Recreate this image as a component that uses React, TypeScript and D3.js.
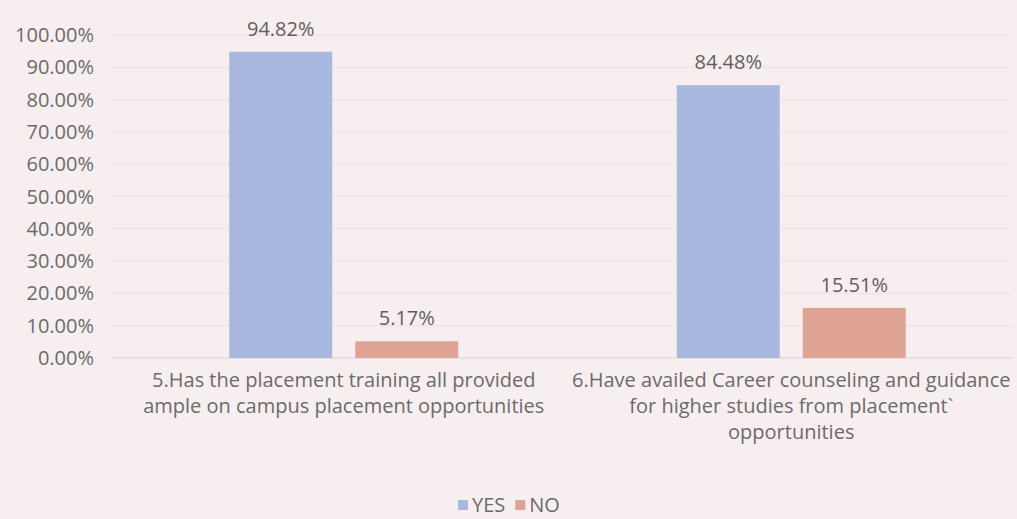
import * as d3 from "d3";
import { useEffect, useRef } from "react";

const width = 1017;
const height = 519;

// category labels, already broken into lines like the original
const categories = ["q5", "q6"];
const categoryLines = [
  ["5.Has the placement training all provided", "ample on campus placement opportunities"],
  ["6.Have availed Career counseling and guidance", "for higher studies from placement`", "opportunities"],
];
const seriesNames = ["YES", "NO"];
const yesValues = [94.82, 84.48];
const noValues = [5.17, 15.51];
const yTicks = [0, 10, 20, 30, 40, 50, 60, 70, 80, 90, 100];

const colors = ["#a9b8de", "#dfa395"];
const font = "'Open Sans', sans-serif";
const textColor = "#6b6b6b";
const fs = 20;

export default function App() {
  const ref = useRef<SVGSVGElement>(null);

  useEffect(() => {
    const svg = d3.select(ref.current);
    svg.selectAll("*").remove();

    const x = d3.scaleBand().domain(categories).range([120, 1015]);
    const xs = d3.scaleBand().domain(seriesNames).range([0, x.bandwidth()]).paddingInner(0.183).paddingOuter(0.867);
    const y = d3.scaleLinear().domain([0, 100]).range([358, 35]);

    svg.append("rect").attr("width", width).attr("height", height).attr("fill", "#f7eeef");

    // grid
    svg
      .append("g")
      .selectAll("line")
      .data(yTicks)
      .join("line")
      .attr("x1", 112)
      .attr("x2", 1012)
      .attr("y1", (d) => y(d))
      .attr("y2", (d) => y(d))
      .attr("stroke", (d) => (d === 0 ? "#dccfd2" : "#ebe0e2"))
      .attr("stroke-width", 1);

    // y tick labels
    svg
      .append("g")
      .selectAll("text")
      .data(yTicks)
      .join("text")
      .attr("x", 94)
      .attr("y", (d) => y(d))
      .attr("dy", "0.35em")
      .attr("text-anchor", "end")
      .attr("font-family", font)
      .attr("font-size", fs)
      .attr("fill", textColor)
      .text((d) => d3.format(".2f")(d) + "%");

    const series = [yesValues, noValues];
    const groups = svg
      .append("g")
      .selectAll("g")
      .data(categories)
      .join("g")
      .attr("transform", (d) => `translate(${x(d)},0)`);

    groups
      .selectAll("rect")
      .data((d, i) => seriesNames.map((s, j) => ({ s, v: series[j][i], j })))
      .join("rect")
      .attr("x", (d) => xs(d.s)!)
      .attr("width", xs.bandwidth())
      .attr("y", (d) => y(d.v))
      .attr("height", (d) => y(0) - y(d.v))
      .attr("fill", (d) => colors[d.j]);

    groups
      .selectAll("text.val")
      .data((d, i) => seriesNames.map((s, j) => ({ s, v: series[j][i] })))
      .join("text")
      .attr("class", "val")
      .attr("x", (d) => xs(d.s)! + xs.bandwidth() / 2)
      .attr("y", (d) => y(d.v) - 16)
      .attr("text-anchor", "middle")
      .attr("font-family", font)
      .attr("font-size", fs)
      .attr("fill", "#5f5f5f")
      .text((d) => d.v.toFixed(2) + "%");

    // category labels
    groups.each(function (d, i) {
      const t = d3
        .select(this)
        .append("text")
        .attr("text-anchor", "middle")
        .attr("font-family", font)
        .attr("font-size", fs)
        .attr("fill", textColor);
      categoryLines[i].forEach((line, k) => {
        t.append("tspan")
          .attr("x", x.bandwidth() / 2)
          .attr("y", 387 + k * 26)
          .text(line);
      });
    });

    // legend
    const legend = svg.append("g").attr("transform", "translate(458,505)");
    let lx = 0;
    seriesNames.forEach((s, j) => {
      legend.append("rect").attr("x", lx).attr("y", -5).attr("width", 10).attr("height", 10).attr("fill", colors[j]);
      const t = legend
        .append("text")
        .attr("x", lx + 14)
        .attr("y", 0)
        .attr("dy", "0.35em")
        .attr("font-family", font)
        .attr("font-size", fs)
        .attr("fill", textColor)
        .text(s);
      lx += 14 + (t.node() as SVGTextElement).getComputedTextLength() + 10;
    });
  }, []);

  return (
    <svg
      ref={ref}
      width={width}
      height={height}
      style={{ position: "absolute", left: 0, top: 0, display: "block" }}
    />
  );
}
